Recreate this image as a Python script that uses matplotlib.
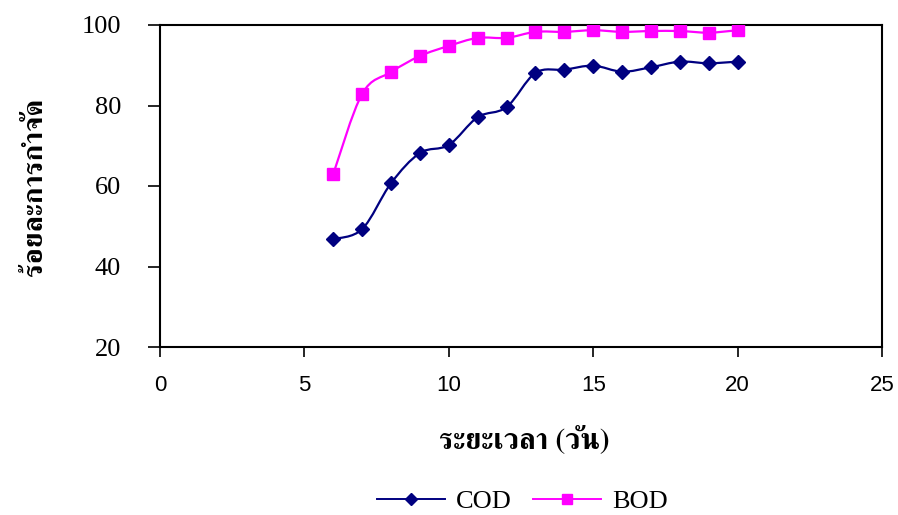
import matplotlib
matplotlib.use("Agg")
import matplotlib.pyplot as plt
from matplotlib.path import Path
from matplotlib.patches import PathPatch
from matplotlib.lines import Line2D

# data
days = [6, 7, 8, 9, 10, 11, 12, 13, 14, 15, 16, 17, 18, 19, 20]
cod = [46.8, 49.3, 60.7, 68.2, 70.2, 77.1, 79.6, 88.1, 88.9, 89.9, 88.4, 89.5, 90.9, 90.5, 90.9]
bod = [63.0, 82.9, 88.3, 92.3, 94.8, 96.8, 96.8, 98.3, 98.3, 98.7, 98.3, 98.5, 98.5, 98.1, 98.7]

x_ticks = [0, 5, 10, 15, 20, 25]
y_ticks = [20, 40, 60, 80, 100]

thai_font = ['FreeSerif', 'DejaVu Sans']
serif_font = ['Liberation Serif', 'DejaVu Serif']
sans_font = ['Liberation Sans', 'DejaVu Sans']


def smooth_path(xs, ys):
    # excel-like smoothed line: cubic bezier segments through the points
    pts = list(zip(xs, ys))
    verts = [pts[0]]
    codes = [Path.MOVETO]
    n = len(pts)
    for i in range(n - 1):
        p0 = pts[i - 1] if i > 0 else pts[i]
        p1 = pts[i]
        p2 = pts[i + 1]
        p3 = pts[i + 2] if i + 2 < n else pts[i + 1]
        c1 = (p1[0] + (p2[0] - p0[0]) / 6.0, p1[1] + (p2[1] - p0[1]) / 6.0)
        c2 = (p2[0] - (p3[0] - p1[0]) / 6.0, p2[1] - (p3[1] - p1[1]) / 6.0)
        verts += [c1, c2, p2]
        codes += [Path.CURVE4] * 3
    return Path(verts, codes)


fig = plt.figure(figsize=(8.98, 5.15), dpi=100)
ax = fig.add_axes([160 / 898, 1 - 347 / 515, 722 / 898, 322 / 515])

series = [
    ('COD', cod, '#000080', 'D', 7),
    ('BOD', bod, '#FF00FF', 's', 8.5),
]
handles = []
for name, vals, col, mk, ms in series:
    ax.add_patch(PathPatch(smooth_path(days, vals), fill=False, edgecolor=col, lw=1.6, zorder=2))
    ax.plot(days, vals, linestyle='none', marker=mk, markersize=ms, color=col, zorder=3)
    handles.append(Line2D([], [], color=col, lw=1.4, marker=mk, markersize=ms * 0.9, label=name))

ax.set_xlim(0, 25)
ax.set_ylim(20, 100)
ax.set_xticks(x_ticks)
ax.set_yticks(y_ticks)
for s in ax.spines.values():
    s.set_linewidth(1.5)
ax.tick_params(axis='y', direction='out', length=9, width=1.2, pad=19)
ax.tick_params(axis='x', direction='out', length=7, width=1.2, pad=13)
for lab in ax.get_yticklabels():
    lab.set_family(serif_font)
    lab.set_fontsize(19)
for lab in ax.get_xticklabels():
    lab.set_family(sans_font)
    lab.set_fontsize(16)

fig.text(524 / 898, 1 - 440 / 515, 'ระยะเวลา (วัน)', ha='center', va='center',
         family=thai_font, fontweight='bold', fontsize=21)
fig.text(36 / 898, 1 - 187 / 515, 'ร้อยละการกำจัด', ha='center', va='center', rotation=90,
         family=thai_font, fontweight='bold', fontsize=20.5)

# legend sits at the very bottom edge, kept just inside the canvas
fig.legend(handles=handles, loc='center', bbox_to_anchor=(522 / 898, 0.027), ncol=2,
           frameon=False, prop={'family': serif_font, 'size': 19},
           handlelength=2.6, handletextpad=0.4, columnspacing=0.8)

fig.savefig('out.png', dpi=100)
